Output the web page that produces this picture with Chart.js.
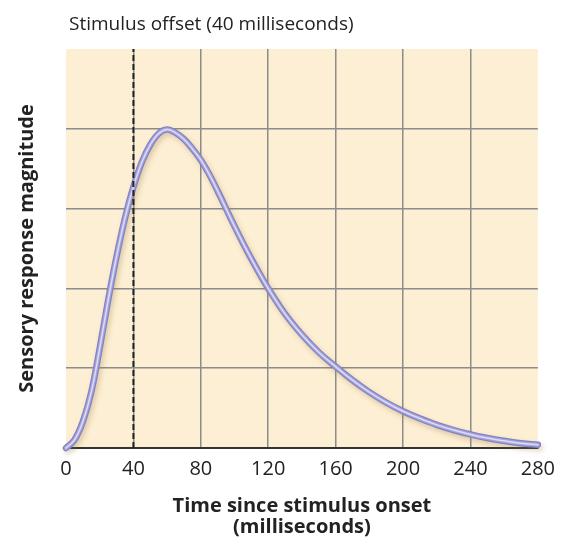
<!DOCTYPE html>
<html>
<head>
<meta charset="utf-8">
<script src="https://cdn.jsdelivr.net/npm/chart.js@4.4.1/dist/chart.umd.min.js"></script>
<style>
  html, body { margin: 0; padding: 0; background: #fff; }
  #wrap { width: 564px; height: 538px; }
</style>
</head>
<body>
<div id="wrap"><canvas id="chart" role="img" aria-label="Sensory response magnitude over time since stimulus onset"></canvas></div>
<script>
// время (мс) и величина ответа
const times = [0, 5, 10, 15, 20, 25, 30, 35, 40, 45, 50, 55, 60, 65, 70, 75, 80, 85, 90, 95, 100,
  105, 110, 115, 120, 130, 140, 150, 160, 170, 180, 190, 200, 210, 220, 230, 240, 250, 260, 270, 280, 285];
const response = [0, 0.1, 0.33, 0.7, 1.25, 1.85, 2.4, 2.88, 3.27, 3.58, 3.8, 3.94, 3.99, 3.95, 3.87, 3.75, 3.61, 3.43, 3.22, 3.0, 2.78,
  2.57, 2.37, 2.18, 2.0, 1.68, 1.42, 1.2, 1.02, 0.85, 0.7, 0.57, 0.46, 0.37, 0.29, 0.225, 0.17, 0.125, 0.09, 0.06, 0.04, 0.03];
const offsetTime = 40;
const xTicks = [0, 40, 80, 120, 160, 200, 240, 280];
const yLevels = [0, 1, 2, 3, 4, 5];

const topLabel = 'Stimulus offset (40 milliseconds)';
const xTitle = ['Time since stimulus onset', '(milliseconds)'];
const yTitle = 'Sensory response magnitude';

const curve = times.map((t, i) => ({ x: t, y: response[i] }));
const offsetLine = [{ x: offsetTime, y: yLevels[0] }, { x: offsetTime, y: yLevels[yLevels.length - 1] }];

const FONT = '"Open Sans", "Noto Sans", sans-serif';

// фон области графика и подпись сверху
const paperPlugin = {
  id: 'paper',
  beforeDraw(chart) {
    const { ctx, chartArea: a } = chart;
    ctx.save();
    ctx.fillStyle = '#fdefd3';
    ctx.fillRect(a.left, a.top, a.right - a.left, a.bottom - a.top);
    ctx.restore();
  },
  afterDraw(chart) {
    const ctx = chart.ctx;
    ctx.save();
    ctx.font = '19px ' + FONT;
    ctx.fillStyle = '#222';
    ctx.textBaseline = 'alphabetic';
    ctx.fillText(topLabel, 69, 30);
    ctx.restore();
  },
  // лёгкая тень под кривой
  beforeDatasetDraw(chart, args) {
    if (args.index === 3) {
      const ctx = chart.ctx;
      ctx.shadowColor = 'rgba(150, 120, 60, 0.3)';
      ctx.shadowBlur = 5;
      ctx.shadowOffsetX = 2;
      ctx.shadowOffsetY = 3;
    }
  },
  afterDatasetDraw(chart, args) {
    if (args.index === 3) {
      const ctx = chart.ctx;
      ctx.shadowColor = 'transparent';
      ctx.shadowBlur = 0;
      ctx.shadowOffsetX = 0;
      ctx.shadowOffsetY = 0;
    }
  }
};

const lineBase = {
  pointRadius: 0,
  pointHoverRadius: 0,
  fill: false,
  tension: 0.4,
  clip: false,
  borderCapStyle: 'round'
};

new Chart(document.getElementById('chart'), {
  type: 'line',
  data: {
    datasets: [
      { ...lineBase, data: offsetLine, borderColor: '#222', borderWidth: 2, borderDash: [6, 3], borderCapStyle: 'butt', tension: 0 },
      { ...lineBase, data: curve, borderColor: '#dcdcf5', borderWidth: 1.5 },
      { ...lineBase, data: curve, borderColor: '#a6a4dc', borderWidth: 4 },
      { ...lineBase, data: curve, borderColor: '#8481c4', borderWidth: 6.5 }
    ]
  },
  options: {
    responsive: true,
    maintainAspectRatio: false,
    animation: false,
    events: [],
    layout: { padding: { top: 49, right: 26, bottom: 0, left: 0 } },
    plugins: {
      legend: { display: false },
      tooltip: { enabled: false },
      title: { display: false }
    },
    scales: {
      x: {
        type: 'linear',
        min: xTicks[0],
        max: xTicks[xTicks.length - 1],
        afterBuildTicks: (s) => { s.ticks = xTicks.map(v => ({ value: v })); },
        afterFit: (s) => { s.height = 90; },
        ticks: { color: '#222', font: { family: FONT, size: 20 }, padding: 9, maxRotation: 0 },
        grid: {
          drawTicks: false,
          lineWidth: 1.5,
          color: (c) => (c.tick && (c.tick.value === xTicks[0] || c.tick.value === xTicks[xTicks.length - 1])) ? 'rgba(0,0,0,0)' : '#8c8c8c'
        },
        border: { display: true, color: '#333', width: 2 },
        title: {
          display: true,
          text: xTitle,
          color: '#222',
          font: { family: FONT, size: 20, weight: 'bold', lineHeight: 1.05 },
          padding: { top: 0, bottom: 0 }
        }
      },
      y: {
        type: 'linear',
        min: yLevels[0],
        max: yLevels[yLevels.length - 1],
        afterBuildTicks: (s) => { s.ticks = yLevels.map(v => ({ value: v })); },
        afterFit: (s) => { s.width = 66; },
        ticks: { display: false },
        grid: {
          drawTicks: false,
          lineWidth: 1.5,
          color: (c) => (c.tick && (c.tick.value === yLevels[0] || c.tick.value === yLevels[yLevels.length - 1])) ? 'rgba(0,0,0,0)' : '#8c8c8c'
        },
        border: { display: false },
        title: {
          display: true,
          text: yTitle,
          color: '#222',
          font: { family: FONT, size: 20, weight: 'bold', lineHeight: 1.2 },
          padding: { top: 15, bottom: 0 }
        }
      }
    }
  },
  plugins: [paperPlugin]
});
</script>
</body>
</html>
